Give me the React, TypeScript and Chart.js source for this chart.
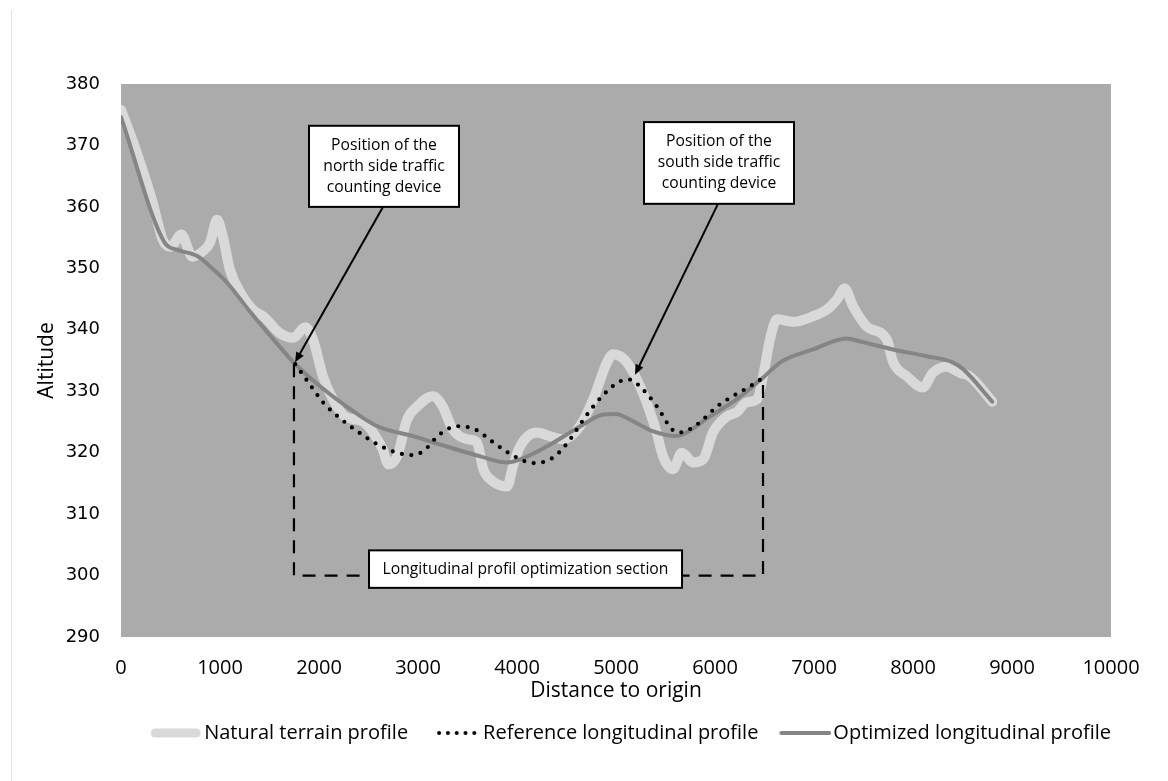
import React, { useEffect, useRef } from "react";
import { Chart, registerables } from "chart.js";

Chart.register(...registerables);

// ---------------- Data ----------------
const naturalX = [0, 160, 320, 420, 500, 610, 720, 820, 900, 970, 1030, 1100, 1230, 1330, 1450, 1600, 1740, 1860, 1940, 2040, 2140, 2260, 2440, 2545, 2645, 2700, 2790, 2890, 2990, 3150, 3250, 3350, 3495, 3595, 3660, 3760, 3900, 3960, 4030, 4200, 4330, 4465, 4635, 4770, 4910, 4970, 5110, 5270, 5410, 5475, 5575, 5665, 5780, 5880, 5980, 6120, 6220, 6320, 6425, 6485, 6555, 6625, 6790, 6990, 7130, 7230, 7310, 7395, 7535, 7735, 7800, 7940, 8100, 8200, 8340, 8475, 8575, 8800];
const naturalY = [375.8, 368.8, 360.7, 354.7, 353.5, 355.5, 351.9, 352.7, 354.2, 357.9, 355.1, 349.8, 345.4, 343.3, 342, 339.5, 338.7, 340.4, 338.4, 332.4, 328.7, 325.9, 325.1, 323.3, 320.5, 318.1, 319.4, 325.4, 327.5, 329.2, 327.5, 323.8, 322.2, 321.7, 317.3, 315.3, 314.5, 317.8, 321.0, 323.3, 322.7, 322.2, 324.3, 328.7, 334.7, 336, 334.7, 329.8, 323.3, 319.4, 317.3, 320, 318.4, 318.9, 323.3, 325.9, 326.6, 328.2, 328.7, 332.4, 338.4, 341.7, 341.3, 342.2, 343.3, 344.9, 346.7, 343.8, 340.5, 338.4, 334.7, 332.4, 330.6, 333, 334, 333, 332.4, 328.3];

const referenceX = [1760, 1930, 2040, 2190, 2385, 2585, 2750, 2940, 3050, 3220, 3395, 3575, 3750, 3910, 4080, 4180, 4365, 4515, 4685, 4860, 5040, 5140, 5220, 5415, 5565, 5645, 5820, 6020, 6180, 6355, 6485];
const referenceY = [334.4, 330.6, 328.2, 325.9, 323.5, 321.4, 320.2, 319.6, 320.2, 323, 324.3, 323.8, 321.8, 320, 318.6, 318.3, 319.2, 321.7, 325.7, 329.2, 331.6, 331.9, 331.1, 327.5, 323.8, 323.3, 324.6, 327.5, 329.2, 330.8, 332.2];

const optimizedX = [0, 440, 570, 770, 900, 1070, 1300, 1600, 1760, 2010, 2280, 2590, 2950, 3290, 3630, 3900, 4030, 4300, 4640, 4870, 5000, 5140, 5370, 5600, 5680, 5950, 6220, 6485, 6660, 6990, 7330, 7465, 7800, 8140, 8400, 8505, 8800];
const optimizedY = [374.6, 354.2, 353, 352, 350.3, 347.7, 343, 337.3, 334.4, 330.8, 327.5, 324.3, 322.7, 321, 319.4, 318.4, 318.9, 321, 324.3, 326.2, 326.3, 325.4, 323.5, 322.7, 323, 325.9, 328.7, 332.2, 334.7, 336.8, 338.6, 338.1, 336.8, 335.7, 334.7, 333.6, 328.3];

const seriesNames = ["Natural terrain profile", "Reference longitudinal profile", "Optimized longitudinal profile"];
const xTitle = "Distance to origin";
const yTitle = "Altitude";

// Annotations (data units)
const boxLabels = [
  ["Position of the", "north side traffic", "counting device"],
  ["Position of the", "south side traffic", "counting device"],
  ["Longitudinal profil optimization section"],
];
const boxXMin = [1899, 5283, 2505];
const boxXMax = [3414, 6798, 5667];
const boxYMin = [360.0, 360.5, 298.0];
const boxYMax = [373.2, 373.8, 304.1];
const arrowFromX = [2646, 6030];
const arrowFromY = [360.0, 360.5];
const arrowToX = [1758, 5192];
const arrowToY = [334.7, 332.7];
const sectionX = [1747, 6485];
const sectionTopY = [334.4, 332.2];
const sectionBaseY = 300;

const toXY = (xs: number[], ys: number[]) => xs.map((x, i) => ({ x, y: ys[i] }));

const FONT = "'Open Sans', 'DejaVu Sans', sans-serif";

// legend marker images
function makeMarker(kind: "natural" | "dotted" | "solid"): HTMLCanvasElement {
  const c = document.createElement("canvas");
  c.width = 66;
  c.height = 14;
  const g = c.getContext("2d")!;
  g.lineCap = "round";
  if (kind === "natural") {
    g.strokeStyle = "#d9d9d9";
    g.lineWidth = 9;
    g.beginPath();
    g.moveTo(19, 7);
    g.lineTo(60, 7);
    g.stroke();
  } else if (kind === "dotted") {
    g.fillStyle = "#000";
    for (let i = 0; i < 5; i++) {
      g.beginPath();
      g.arc(24 + i * 8.8, 7, 2, 0, Math.PI * 2);
      g.fill();
    }
  } else {
    g.strokeStyle = "#858585";
    g.lineWidth = 4;
    g.beginPath();
    g.moveTo(16, 7);
    g.lineTo(64, 7);
    g.stroke();
  }
  return c;
}

const bgPlugin = {
  id: "plotBg",
  beforeDraw(chart: any) {
    const { ctx, chartArea } = chart;
    ctx.save();
    ctx.fillStyle = "#ababab";
    ctx.fillRect(chartArea.left, chartArea.top, chartArea.right - chartArea.left, chartArea.bottom - chartArea.top);
    ctx.restore();
  },
  afterLayout(chart: any) {
    const lg = chart.legend;
    if (lg) {
      lg.left += 15;
      lg.right += 15;
    }
  },
};

const annotationPlugin = {
  id: "annotations",
  afterDatasetsDraw(chart: any) {
    const { ctx } = chart;
    const xs = chart.scales.x;
    const ys = chart.scales.y;
    const px = (v: number) => xs.getPixelForValue(v);
    const py = (v: number) => ys.getPixelForValue(v);
    ctx.save();
    // dashed section
    ctx.strokeStyle = "#000";
    ctx.lineWidth = 2.2;
    ctx.setLineDash([13, 9]);
    ctx.beginPath();
    ctx.moveTo(px(sectionX[0]), py(sectionTopY[0]));
    ctx.lineTo(px(sectionX[0]), py(sectionBaseY));
    ctx.lineTo(px(sectionX[1]), py(sectionBaseY));
    ctx.lineTo(px(sectionX[1]), py(sectionTopY[1]));
    ctx.stroke();
    ctx.setLineDash([]);
    // arrows
    for (let i = 0; i < arrowFromX.length; i++) {
      const x0 = px(arrowFromX[i]), y0 = py(arrowFromY[i]);
      const x1 = px(arrowToX[i]), y1 = py(arrowToY[i]);
      const ang = Math.atan2(y1 - y0, x1 - x0);
      const head = 11;
      ctx.lineWidth = 2;
      ctx.beginPath();
      ctx.moveTo(x0, y0);
      ctx.lineTo(x1 - Math.cos(ang) * head * 0.6, y1 - Math.sin(ang) * head * 0.6);
      ctx.stroke();
      ctx.beginPath();
      ctx.moveTo(x1, y1);
      ctx.lineTo(x1 - head * Math.cos(ang - 0.4), y1 - head * Math.sin(ang - 0.4));
      ctx.lineTo(x1 - head * Math.cos(ang + 0.4), y1 - head * Math.sin(ang + 0.4));
      ctx.closePath();
      ctx.fillStyle = "#000";
      ctx.fill();
    }
    // boxes
    for (let i = 0; i < boxLabels.length; i++) {
      const l = px(boxXMin[i]), r = px(boxXMax[i]);
      const t = py(boxYMax[i]), b = py(boxYMin[i]);
      ctx.fillStyle = "#fff";
      ctx.fillRect(l, t, r - l, b - t);
      ctx.lineWidth = 2;
      ctx.strokeStyle = "#000";
      ctx.strokeRect(l, t, r - l, b - t);
      ctx.fillStyle = "#000";
      ctx.font = `15.7px ${FONT}`;
      ctx.textAlign = "center";
      ctx.textBaseline = "middle";
      const lines = boxLabels[i];
      const lh = 21;
      const cy = (t + b) / 2;
      lines.forEach((s, k) => {
        ctx.fillText(s, (l + r) / 2, cy + (k - (lines.length - 1) / 2) * lh);
      });
    }
    ctx.restore();
  },
};

export default function App() {
  const ref = useRef<HTMLCanvasElement | null>(null);
  useEffect(() => {
    if (!ref.current) return;
    const chart = new Chart(ref.current, {
      type: "line",
      data: {
        datasets: [
          {
            label: seriesNames[0],
            data: toXY(naturalX, naturalY),
            borderColor: "#d9d9d9",
            backgroundColor: "#d9d9d9",
            borderWidth: 10,
            borderCapStyle: "round",
            borderJoinStyle: "round",
            pointRadius: 0,
            cubicInterpolationMode: "monotone",
            order: 3,
            pointStyle: makeMarker("natural"),
          },
          {
            label: seriesNames[1],
            data: toXY(referenceX, referenceY),
            borderColor: "#000",
            backgroundColor: "#000",
            borderWidth: 4.2,
            borderDash: [0, 9.5],
            borderCapStyle: "round",
            pointRadius: 0,
            cubicInterpolationMode: "monotone",
            order: 1,
            pointStyle: makeMarker("dotted"),
          },
          {
            label: seriesNames[2],
            data: toXY(optimizedX, optimizedY),
            borderColor: "#858585",
            backgroundColor: "#858585",
            borderWidth: 4,
            borderCapStyle: "round",
            borderJoinStyle: "round",
            pointRadius: 0,
            cubicInterpolationMode: "monotone",
            order: 2,
            pointStyle: makeMarker("solid"),
          },
        ],
      },
      options: {
        responsive: false,
        animation: false,
        events: [],
        layout: { padding: { left: 0, right: 57, top: 84, bottom: 28 } },
        scales: {
          x: {
            type: "linear",
            min: 0,
            max: 10000,
            ticks: { stepSize: 1000, color: "#000", font: { family: FONT, size: 20 }, padding: 19, maxRotation: 0, callback: (v: any) => String(v) },
            grid: { display: false, drawTicks: false },
            border: { display: false },
            title: { display: true, text: xTitle, color: "#000", font: { family: FONT, size: 21, lineHeight: 1 }, padding: { top: 0, bottom: 6 } },
            afterFit: (s: any) => { s.height = 71; },
          },
          y: {
            min: 290,
            max: 380,
            ticks: { stepSize: 10, color: "#000", font: { family: "'DejaVu Sans', sans-serif", size: 18 }, padding: 21 },
            grid: { display: false, drawTicks: false },
            border: { display: false },
            title: { display: true, text: yTitle, color: "#000", font: { family: FONT, size: 21, lineHeight: 1 }, padding: { top: 37, bottom: 0 } },
            afterFit: (s: any) => { s.width = 121; },
          },
        },
        plugins: {
          legend: {
            position: "bottom",
            align: "end",
            labels: {
              usePointStyle: true,
              pointStyleWidth: 50,
              padding: 15,
              color: "#000",
              font: { family: FONT, size: 20 },
              sort: (a: any, b: any) => a.datasetIndex - b.datasetIndex,
            },
          },
          tooltip: { enabled: false },
        },
      },
      plugins: [bgPlugin, annotationPlugin],
    } as any);
    return () => chart.destroy();
  }, []);
  return (
    <div style={{ position: "fixed", left: 0, top: 0, width: 1168, height: 781, background: "#fff" }}>
      <div style={{ position: "absolute", left: 11, top: 10, width: 1, height: 771, background: "#d6e4f2" }} />
      <canvas ref={ref} width={1168} height={781} style={{ position: "absolute", left: 0, top: 0, width: 1168, height: 781 }} />
    </div>
  );
}
